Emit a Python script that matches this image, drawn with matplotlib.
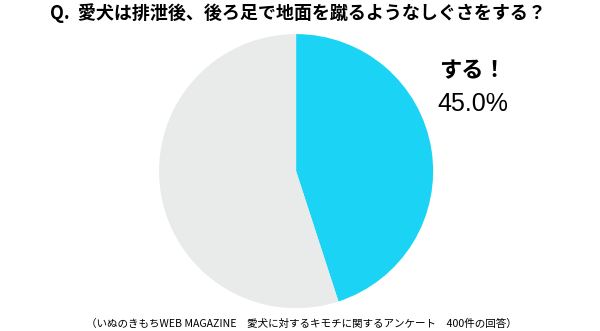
import matplotlib.pyplot as plt

plt.rcParams['font.family'] = ['Noto Sans CJK JP', 'DejaVu Sans']

labels = ["する", "しない"]
values = [45.0, 55.0]
colors = ["#1ad3f5", "#e8ebea"]
title = "Q.  愛犬は排泄後、後ろ足で地面を蹴るようなしぐさをする？"
answer_label = "する！"
answer_pct = "45.0%"
source = "（いぬのきもちWEB MAGAZINE　愛犬に対するキモチに関するアンケート　400件の回答）"

fig = plt.figure(figsize=(6, 3.31), dpi=100)
ax = fig.add_axes([0.265, 0.069, 0.457, 0.828])
ax.pie(values, colors=colors, startangle=90, counterclock=False,
       wedgeprops=dict(linewidth=0))
ax.set_xlim(-1, 1)
ax.set_ylim(-1, 1)
ax.set_aspect("equal")

fig.text(0.497, 0.96, title, ha="center", va="center", fontsize=13, fontweight="bold")
fig.text(0.787, 0.785, answer_label, ha="center", va="center", fontsize=16, fontweight="bold")
fig.text(0.788, 0.685, answer_pct, ha="center", va="center", fontsize=18,
         family=["Liberation Sans", "DejaVu Sans"])
fig.text(0.503, 0.022, source, ha="center", va="center", fontsize=7.6)

fig.savefig("out.png", dpi=100)
